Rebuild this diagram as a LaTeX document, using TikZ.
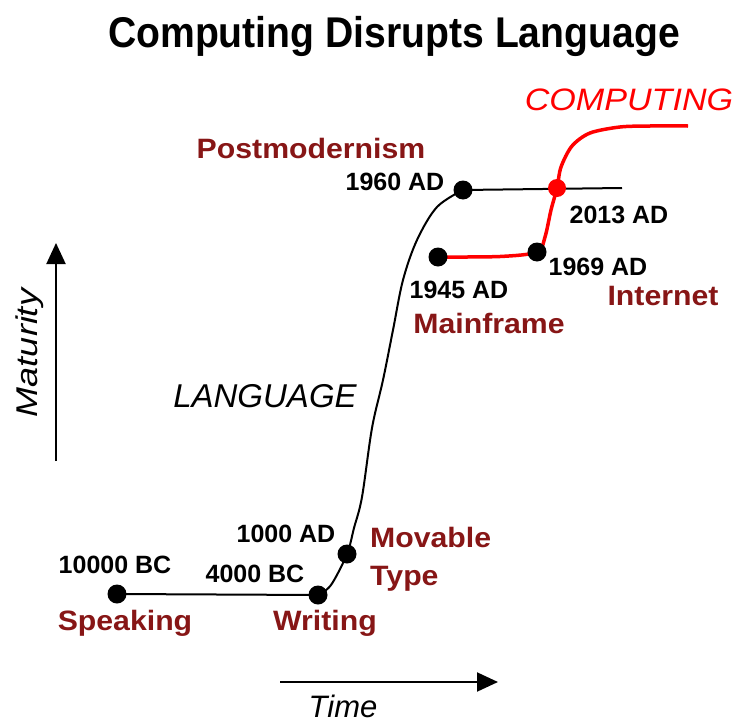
\documentclass[tikz,border=0pt]{standalone}
\usepackage{fontspec}
\setmainfont{Liberation Sans}
\newfontfamily\titlefont[FakeStretch=0.91]{Liberation Sans}
\newfontfamily\redfont[FakeStretch=1.08]{Liberation Sans}
\newfontfamily\compfont[FakeStretch=1.1]{Liberation Sans}
\newfontfamily\matfont[FakeStretch=1.2]{Liberation Sans}
\usetikzlibrary{arrows.meta}
\definecolor{labelred}{RGB}{135,22,22}
\definecolor{compred}{RGB}{255,0,0}
\begin{document}
\begin{tikzpicture}[x=1pt,y=-1pt,
  dot/.style={circle,fill=black,inner sep=0pt,minimum size=19pt},
  reddot/.style={circle,fill=compred,inner sep=0pt,minimum size=18pt},
  datelbl/.style={anchor=base,inner sep=0pt,font=\bfseries\fontsize{25}{30}\selectfont},
  eralbl/.style={anchor=base,inner sep=0pt,text=labelred,font=\redfont\bfseries\fontsize{28}{34}\selectfont},
  blackcurve/.style={line width=2pt,black},
  redcurve/.style={line width=3.5pt,compred},
  axisarrow/.style={line width=2pt,-{Triangle[length=21pt,width=19pt]}}]
\useasboundingbox (0,0) rectangle (737,723);
% title
\node[anchor=base,inner sep=0pt,font=\titlefont\bfseries\fontsize{43}{50}\selectfont] (title) at (394,47) {Computing Disrupts Language};
% point positions
\coordinate (pSpeak) at (117,594);
\coordinate (pWrite) at (318,595);
\coordinate (pMov) at (347,554);
\coordinate (p1960) at (463,190);
\coordinate (pEnd) at (622,188);
\coordinate (p1945) at (438,257);
\coordinate (p1969) at (537,252);
\coordinate (p2013) at (557,188);
\coordinate (pCompEnd) at (688,126);
% language curve
\draw[blackcurve] (pSpeak) -- (pWrite);
\draw[blackcurve] plot[smooth,tension=0.55] coordinates {(pWrite) (331,585) (pMov) (354,528) (362,497) (372,428) (383,380) (393,330) (403,280) (417,240) (437,207) (p1960)};
\draw[blackcurve] (p1960) -- (pEnd);
% computing curve
\draw[redcurve] plot[smooth,tension=0.5] coordinates {(p1945) (500,256.5) (p1969) (545,237) (551,210) (p2013) (561,167) (572,146) (590,133) (620,127) (650,126) (pCompEnd)};
% dots
\node[dot] (speak) at (pSpeak) {};
\node[dot] (write) at (pWrite) {};
\node[dot] (mov) at (pMov) {};
\node[dot] (d1960) at (p1960) {};
\node[dot] (d1945) at (p1945) {};
\node[dot] (d1969) at (p1969) {};
\node[reddot] (d2013) at (p2013) {};
% date labels
\node[datelbl] (l10000) at (115,573) {10000 BC};
\node[datelbl] (l4000) at (255,582) {4000 BC};
\node[datelbl] (l1000) at (286,542) {1000 AD};
\node[datelbl] (l1960) at (395,190) {1960 AD};
\node[datelbl] (l2013) at (619,223) {2013 AD};
\node[datelbl] (l1969) at (598,275) {1969 AD};
\node[datelbl] (l1945) at (459,298) {1945 AD};
% era labels
\node[eralbl] (speaking) at (125,630) {Speaking};
\node[eralbl] (writing) at (325,630) {Writing};
\node[eralbl,anchor=base west] (movable) at (370,547) {Movable};
\node[eralbl,anchor=base west] (type) at (370,585) {Type};
\node[eralbl] (postmod) at (311,158) {Postmodernism};
\node[eralbl] (mainframe) at (489,333) {Mainframe};
\node[eralbl] (internet) at (663,305) {Internet};
% curve names
\node[anchor=base,inner sep=0pt,font=\itshape\fontsize{33}{40}\selectfont] (language) at (265,407) {LANGUAGE};
\node[anchor=base,inner sep=0pt,text=compred,font=\compfont\itshape\fontsize{31}{38}\selectfont] (computing) at (629,110) {COMPUTING};
% axes
\coordinate (matFrom) at (56,461);
\coordinate (matTo) at (56,243);
\draw[axisarrow] (matFrom) -- (matTo);
\node[anchor=base,inner sep=0pt,rotate=90,font=\matfont\itshape\fontsize{30}{36}\selectfont] (maturity) at (37,353) {Maturity};
\coordinate (timeFrom) at (280,682);
\coordinate (timeTo) at (498,682);
\draw[axisarrow] (timeFrom) -- (timeTo);
\node[anchor=base,inner sep=0pt,font=\itshape\fontsize{31}{37}\selectfont] (time) at (343,717) {Time};
\end{tikzpicture}
\end{document}
